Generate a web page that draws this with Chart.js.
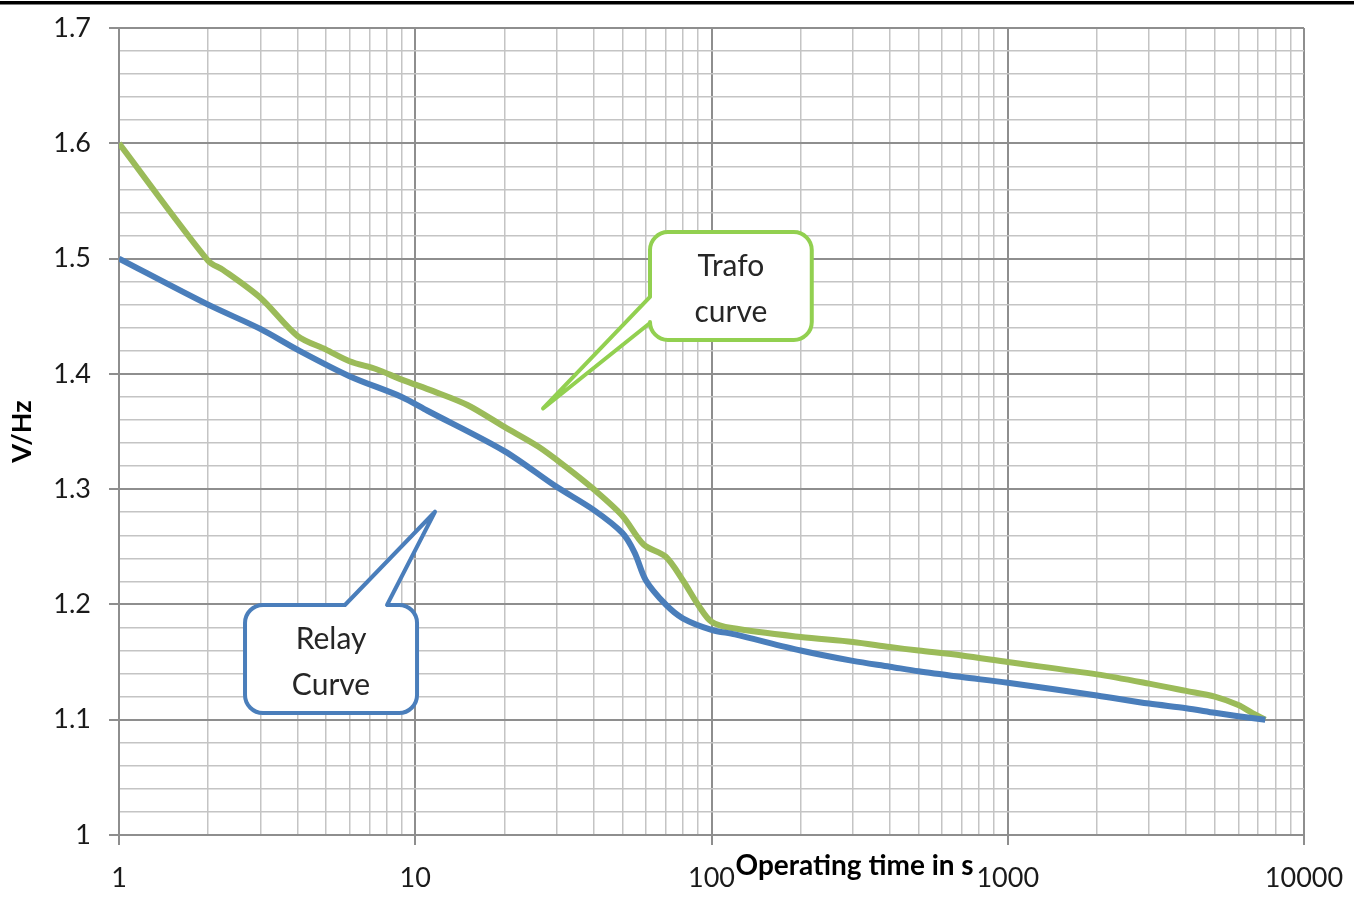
<!DOCTYPE html>
<html>
<head>
<meta charset="utf-8">
<title>V/Hz operating curves</title>
<script src="https://cdn.jsdelivr.net/npm/chart.js@4/dist/chart.umd.min.js"></script>
<style>
  html, body { margin: 0; padding: 0; background: #ffffff; }
  #wrap { width: 1354px; height: 898px; position: relative; }
</style>
</head>
<body>
<div id="wrap"><canvas id="c" width="1354" height="898"></canvas></div>
<script>
// Relay characteristic: operating time (s) vs. V/Hz
const relayTime = [1, 2, 3, 4, 6, 9, 11, 20, 30, 40, 50, 55, 60, 70, 80, 100, 120, 200, 300, 400, 500, 700, 1000, 2000, 3000, 4000, 5000, 6000, 7400];
const relayVhz  = [1.500, 1.460, 1.439, 1.421, 1.398, 1.380, 1.368, 1.333, 1.302, 1.282, 1.262, 1.245, 1.221, 1.200, 1.188, 1.178, 1.174, 1.160, 1.151, 1.146, 1.142, 1.137, 1.132, 1.121, 1.114, 1.110, 1.106, 1.103, 1.100];

// Transformer withstand curve
const trafoTime = [1, 2, 2.25, 3, 4, 5, 6, 7.4, 9, 11.5, 15, 20, 26, 32, 40, 50, 59, 70, 80, 91, 100, 117, 200, 300, 400, 500, 700, 1000, 2000, 3000, 4000, 5000, 6000, 6700, 7400];
const trafoVhz  = [1.600, 1.498, 1.490, 1.466, 1.433, 1.421, 1.411, 1.404, 1.395, 1.385, 1.373, 1.354, 1.337, 1.320, 1.300, 1.277, 1.252, 1.2415, 1.221, 1.198, 1.185, 1.1795, 1.1717, 1.1674, 1.163, 1.160, 1.1557, 1.150, 1.1393, 1.1313, 1.125, 1.120, 1.1127, 1.1058, 1.100];

// Labelled ticks
const xTickLabels = [1, 10, 100, 1000, 10000];
const yTickLabels = [1, 1.1, 1.2, 1.3, 1.4, 1.5, 1.6, 1.7];

// Grid: 1..9 per decade on x, 0.02 steps on y
const decades = [1, 10, 100, 1000];
const xGrid = [];
decades.forEach(d => { for (let k = 1; k <= 9; k++) xGrid.push(d * k); });
xGrid.push(10000);
const yGrid = [];
for (let i = 50; i <= 85; i++) yGrid.push(i / 50);

const isYMajor = v => Math.abs(v * 10 - Math.round(v * 10)) < 1e-6;
const isXMajor = v => xTickLabels.includes(v);

const MAJOR = '#8e8e8e';
const MINOR = '#c4c4c4';
const FONT = 'Lato, "Liberation Sans", sans-serif';

// Callouts, anchored in data units
const callouts = [
  {
    lines: ['Trafo', 'curve'], color: '#92d050',
    box: { x0: 62, x1: 218, y0: 1.523, y1: 1.4294 },
    tail: { edge: 'left', a: 1.4667, b: 1.4441, tx: 27, ty: 1.370 }
  },
  {
    lines: ['Relay', 'Curve'], color: '#4a7ebb',
    box: { x0: 2.663, x1: 10.14, y0: 1.1995, y1: 1.1058 },
    tail: { edge: 'top', a: 5.79, b: 8.03, tx: 11.66, ty: 1.2804 }
  }
];

function bubblePath(ctx, l, t, r, b, rad, tail) {
  ctx.beginPath();
  ctx.moveTo(l + rad, t);
  if (tail.edge === 'top') {
    ctx.lineTo(tail.pa, t);
    ctx.lineTo(tail.px, tail.py);
    ctx.lineTo(tail.pb, t);
  }
  ctx.lineTo(r - rad, t);
  ctx.arcTo(r, t, r, t + rad, rad);
  ctx.lineTo(r, b - rad);
  ctx.arcTo(r, b, r - rad, b, rad);
  ctx.lineTo(l + rad, b);
  ctx.arcTo(l, b, l, b - rad, rad);
  if (tail.edge === 'left') {
    ctx.lineTo(l, tail.pb);
    ctx.lineTo(tail.px, tail.py);
    ctx.lineTo(l, tail.pa);
  }
  ctx.lineTo(l, t + rad);
  ctx.arcTo(l, t, l + rad, t, rad);
  ctx.closePath();
}

const calloutPlugin = {
  id: 'callouts',
  afterDatasetsDraw(chart) {
    const { ctx, scales: { x, y } } = chart;
    callouts.forEach(c => {
      const l = x.getPixelForValue(c.box.x0), r = x.getPixelForValue(c.box.x1);
      const t = y.getPixelForValue(c.box.y0), b = y.getPixelForValue(c.box.y1);
      const tail = { edge: c.tail.edge, px: x.getPixelForValue(c.tail.tx), py: y.getPixelForValue(c.tail.ty) };
      if (c.tail.edge === 'left') {
        tail.pa = y.getPixelForValue(c.tail.a); tail.pb = y.getPixelForValue(c.tail.b);
      } else {
        tail.pa = x.getPixelForValue(c.tail.a); tail.pb = x.getPixelForValue(c.tail.b);
      }
      ctx.save();
      bubblePath(ctx, l, t, r, b, 18, tail);
      ctx.fillStyle = '#ffffff';
      ctx.fill();
      ctx.lineWidth = 4;
      ctx.lineJoin = 'round';
      ctx.strokeStyle = c.color;
      ctx.stroke();
      ctx.fillStyle = '#262626';
      ctx.font = '30px ' + FONT;
      ctx.textAlign = 'center';
      ctx.textBaseline = 'middle';
      const cx = (l + r) / 2, cy = (t + b) / 2 + 3;
      ctx.fillText(c.lines[0], cx, cy - 23);
      ctx.fillText(c.lines[1], cx, cy + 23);
      ctx.restore();
    });
  }
};

const framePlugin = {
  id: 'frame',
  beforeDraw(chart) {
    const { ctx } = chart;
    ctx.save();
    ctx.fillStyle = '#ffffff';
    ctx.fillRect(0, 0, chart.width, chart.height);
    ctx.fillStyle = '#000000';
    ctx.fillRect(0, 1, chart.width, 3.5);
    ctx.restore();
  },
  afterDraw(chart) {
    const { ctx, scales: { x }, chartArea } = chart;
    ctx.save();
    ctx.fillStyle = '#000000';
    ctx.font = 'bold 28px ' + FONT;
    ctx.textAlign = 'left';
    ctx.textBaseline = 'middle';
    ctx.fillText('Operating time in s', x.getPixelForValue(100) + 24, chartArea.bottom + 31);
    ctx.restore();
  }
};

// Keep the plot area governed by layout padding only
function noOverflow(s) {
  s.paddingTop = 0; s.paddingBottom = 0; s.paddingLeft = 0; s.paddingRight = 0;
}

new Chart(document.getElementById('c'), {
  type: 'line',
  data: {
    datasets: [
      {
        label: 'Relay Curve',
        data: relayTime.map((t, i) => ({ x: t, y: relayVhz[i] })),
        borderColor: '#4a7ebb',
        borderWidth: 6,
        pointRadius: 0,
        tension: 0.3,
        fill: false
      },
      {
        label: 'Trafo curve',
        data: trafoTime.map((t, i) => ({ x: t, y: trafoVhz[i] })),
        borderColor: '#9bbb59',
        borderWidth: 6,
        pointRadius: 0,
        tension: 0.3,
        fill: false
      }
    ]
  },
  options: {
    responsive: false,
    animation: false,
    events: [],
    layout: { padding: { top: 28, right: 50, left: 0, bottom: 0 } },
    plugins: { legend: { display: false }, tooltip: { enabled: false } },
    scales: {
      x: {
        type: 'logarithmic',
        min: 1,
        max: 10000,
        afterBuildTicks: s => { s.ticks = xGrid.map(v => ({ value: v, major: isXMajor(v) })); },
        afterFit: s => { s.height = 63; noOverflow(s); },
        ticks: {
          autoSkip: false,
          maxRotation: 0,
          minRotation: 0,
          padding: 17,
          color: '#1a1a1a',
          font: { family: FONT, size: 27 },
          callback: v => isXMajor(v) ? String(v) : ''
        },
        grid: {
          color: c => (c.tick && isXMajor(c.tick.value)) ? MAJOR : MINOR,
          lineWidth: c => (c.tick && isXMajor(c.tick.value)) ? 2 : 1.5,
          tickLength: 10,
          tickColor: c => (c.tick && isXMajor(c.tick.value)) ? MAJOR : 'rgba(0,0,0,0)'
        },
        border: { color: MAJOR, width: 2 }
      },
      y: {
        min: 1,
        max: 1.7,
        afterBuildTicks: s => { s.ticks = yGrid.map(v => ({ value: v })); },
        afterFit: s => { s.width = 119; noOverflow(s); },
        ticks: {
          autoSkip: false,
          padding: 18,
          color: '#1a1a1a',
          font: { family: FONT, size: 27 },
          callback: v => {
            if (!isYMajor(v)) return '';
            const lbl = yTickLabels.find(t => Math.abs(t - v) < 1e-6);
            return lbl === undefined ? '' : String(lbl);
          }
        },
        grid: {
          color: c => (c.tick && isYMajor(c.tick.value)) ? MAJOR : MINOR,
          lineWidth: c => (c.tick && isYMajor(c.tick.value)) ? 2 : 1.5,
          tickLength: 10,
          tickColor: c => (c.tick && isYMajor(c.tick.value)) ? MAJOR : 'rgba(0,0,0,0)'
        },
        border: { color: MAJOR, width: 2 },
        title: {
          display: true,
          text: 'V/Hz',
          color: '#000000',
          font: { family: FONT, size: 27, weight: 'bold' },
          padding: { top: 6, bottom: 0 }
        }
      }
    }
  },
  plugins: [framePlugin, calloutPlugin]
});
</script>
</body>
</html>
